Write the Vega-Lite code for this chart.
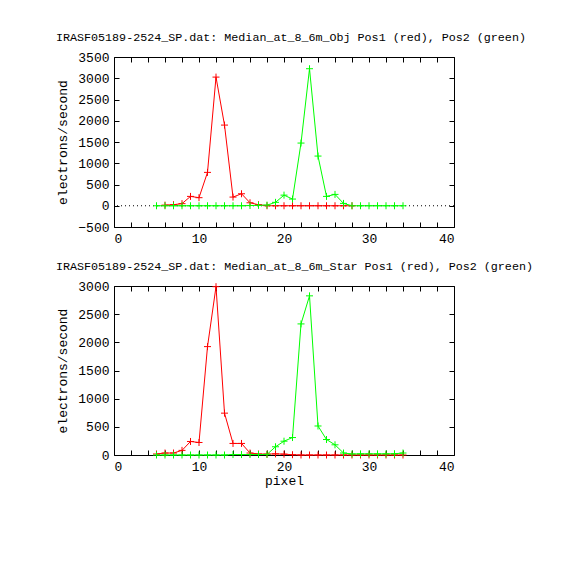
{
  "$schema": "https://vega.github.io/schema/vega-lite/v6.json",
  "background": "white",
  "padding": {"left": 55, "top": 31, "right": 5, "bottom": 5},
  "spacing": 14,
  "datasets": {
    "obj": [
      {"pos": "Pos1", "pixel": 6, "value": 15},
      {"pos": "Pos1", "pixel": 7, "value": 25},
      {"pos": "Pos1", "pixel": 8, "value": 50},
      {"pos": "Pos1", "pixel": 9, "value": 220},
      {"pos": "Pos1", "pixel": 10, "value": 190},
      {"pos": "Pos1", "pixel": 11, "value": 785},
      {"pos": "Pos1", "pixel": 12, "value": 3027},
      {"pos": "Pos1", "pixel": 13, "value": 1898},
      {"pos": "Pos1", "pixel": 14, "value": 204},
      {"pos": "Pos1", "pixel": 15, "value": 282},
      {"pos": "Pos1", "pixel": 16, "value": 70},
      {"pos": "Pos1", "pixel": 17, "value": 24},
      {"pos": "Pos1", "pixel": 18, "value": 0},
      {"pos": "Pos1", "pixel": 19, "value": 0},
      {"pos": "Pos1", "pixel": 20, "value": 0},
      {"pos": "Pos1", "pixel": 21, "value": 0},
      {"pos": "Pos1", "pixel": 22, "value": 0},
      {"pos": "Pos1", "pixel": 23, "value": 0},
      {"pos": "Pos1", "pixel": 24, "value": 0},
      {"pos": "Pos1", "pixel": 25, "value": 0},
      {"pos": "Pos1", "pixel": 26, "value": 0},
      {"pos": "Pos1", "pixel": 27, "value": 0},
      {"pos": "Pos1", "pixel": 28, "value": 0},
      {"pos": "Pos2", "pixel": 5, "value": 0},
      {"pos": "Pos2", "pixel": 6, "value": 0},
      {"pos": "Pos2", "pixel": 7, "value": 0},
      {"pos": "Pos2", "pixel": 8, "value": 0},
      {"pos": "Pos2", "pixel": 9, "value": 0},
      {"pos": "Pos2", "pixel": 10, "value": 0},
      {"pos": "Pos2", "pixel": 11, "value": 0},
      {"pos": "Pos2", "pixel": 12, "value": 0},
      {"pos": "Pos2", "pixel": 13, "value": 0},
      {"pos": "Pos2", "pixel": 14, "value": 0},
      {"pos": "Pos2", "pixel": 15, "value": 0},
      {"pos": "Pos2", "pixel": 16, "value": 5},
      {"pos": "Pos2", "pixel": 17, "value": 10},
      {"pos": "Pos2", "pixel": 18, "value": 15},
      {"pos": "Pos2", "pixel": 19, "value": 80},
      {"pos": "Pos2", "pixel": 20, "value": 250},
      {"pos": "Pos2", "pixel": 21, "value": 157},
      {"pos": "Pos2", "pixel": 22, "value": 1475},
      {"pos": "Pos2", "pixel": 23, "value": 3224},
      {"pos": "Pos2", "pixel": 24, "value": 1169},
      {"pos": "Pos2", "pixel": 25, "value": 220},
      {"pos": "Pos2", "pixel": 26, "value": 267},
      {"pos": "Pos2", "pixel": 27, "value": 55},
      {"pos": "Pos2", "pixel": 28, "value": 0},
      {"pos": "Pos2", "pixel": 29, "value": 0},
      {"pos": "Pos2", "pixel": 30, "value": 0},
      {"pos": "Pos2", "pixel": 31, "value": 0},
      {"pos": "Pos2", "pixel": 32, "value": 0},
      {"pos": "Pos2", "pixel": 33, "value": 0},
      {"pos": "Pos2", "pixel": 34, "value": 0}
    ],
    "star": [
      {"pos": "Pos1", "pixel": 5, "value": 18},
      {"pos": "Pos1", "pixel": 6, "value": 35},
      {"pos": "Pos1", "pixel": 7, "value": 35},
      {"pos": "Pos1", "pixel": 8, "value": 82},
      {"pos": "Pos1", "pixel": 9, "value": 240},
      {"pos": "Pos1", "pixel": 10, "value": 222},
      {"pos": "Pos1", "pixel": 11, "value": 1924},
      {"pos": "Pos1", "pixel": 12, "value": 2988},
      {"pos": "Pos1", "pixel": 13, "value": 743},
      {"pos": "Pos1", "pixel": 14, "value": 205},
      {"pos": "Pos1", "pixel": 15, "value": 205},
      {"pos": "Pos1", "pixel": 16, "value": 35},
      {"pos": "Pos1", "pixel": 17, "value": 18},
      {"pos": "Pos1", "pixel": 18, "value": 15},
      {"pos": "Pos1", "pixel": 19, "value": 20},
      {"pos": "Pos1", "pixel": 20, "value": 15},
      {"pos": "Pos1", "pixel": 21, "value": 5},
      {"pos": "Pos1", "pixel": 22, "value": 0},
      {"pos": "Pos1", "pixel": 23, "value": 0},
      {"pos": "Pos1", "pixel": 24, "value": 0},
      {"pos": "Pos1", "pixel": 25, "value": 0},
      {"pos": "Pos1", "pixel": 26, "value": 0},
      {"pos": "Pos1", "pixel": 27, "value": 0},
      {"pos": "Pos1", "pixel": 28, "value": 0},
      {"pos": "Pos1", "pixel": 29, "value": 0},
      {"pos": "Pos1", "pixel": 30, "value": 0},
      {"pos": "Pos1", "pixel": 31, "value": 0},
      {"pos": "Pos1", "pixel": 32, "value": 0},
      {"pos": "Pos1", "pixel": 33, "value": 0},
      {"pos": "Pos1", "pixel": 34, "value": 0},
      {"pos": "Pos2", "pixel": 5, "value": 0},
      {"pos": "Pos2", "pixel": 6, "value": 0},
      {"pos": "Pos2", "pixel": 7, "value": 0},
      {"pos": "Pos2", "pixel": 8, "value": 0},
      {"pos": "Pos2", "pixel": 9, "value": 0},
      {"pos": "Pos2", "pixel": 10, "value": 0},
      {"pos": "Pos2", "pixel": 11, "value": 0},
      {"pos": "Pos2", "pixel": 12, "value": 0},
      {"pos": "Pos2", "pixel": 13, "value": 0},
      {"pos": "Pos2", "pixel": 14, "value": 8},
      {"pos": "Pos2", "pixel": 15, "value": 8},
      {"pos": "Pos2", "pixel": 16, "value": 8},
      {"pos": "Pos2", "pixel": 17, "value": 8},
      {"pos": "Pos2", "pixel": 18, "value": 10},
      {"pos": "Pos2", "pixel": 19, "value": 146},
      {"pos": "Pos2", "pixel": 20, "value": 245},
      {"pos": "Pos2", "pixel": 21, "value": 310},
      {"pos": "Pos2", "pixel": 22, "value": 2327},
      {"pos": "Pos2", "pixel": 23, "value": 2825},
      {"pos": "Pos2", "pixel": 24, "value": 515},
      {"pos": "Pos2", "pixel": 25, "value": 275},
      {"pos": "Pos2", "pixel": 26, "value": 181},
      {"pos": "Pos2", "pixel": 27, "value": 35},
      {"pos": "Pos2", "pixel": 28, "value": 18},
      {"pos": "Pos2", "pixel": 29, "value": 20},
      {"pos": "Pos2", "pixel": 30, "value": 20},
      {"pos": "Pos2", "pixel": 31, "value": 20},
      {"pos": "Pos2", "pixel": 32, "value": 20},
      {"pos": "Pos2", "pixel": 33, "value": 22},
      {"pos": "Pos2", "pixel": 34, "value": 35}
    ]
  },
  "vconcat": [
    {
      "width": 340,
      "height": 170,
      "title": {"text": "IRASF05189-2524_SP.dat: Median_at_8_6m_Obj Pos1 (red), Pos2 (green)", "anchor": "start", "frame": "group", "dx": -58, "offset": 7},
      "layer": [
        {
          "data": {"values": [{"zero": 0}]},
          "mark": {"type": "rule", "color": "black", "strokeDash": [1, 3], "strokeWidth": 1},
          "encoding": {
            "y": {"field": "zero", "type": "quantitative", "scale": {"domain": [-500, 3500]}, "axis": null}
          }
        },
        {
          "data": {"name": "obj"},
          "mark": {"type": "line", "strokeWidth": 1},
          "encoding": {
            "x": {"field": "pixel", "type": "quantitative", "scale": {"domain": [0, 40]},
                  "axis": {"values": [0, 2, 4, 6, 8, 10, 12, 14, 16, 18, 20, 22, 24, 26, 28, 30, 32, 34, 36, 38, 40], "format": "d", "labelExpr": "datum.value % 10 == 0 ? datum.label : ''", "title": null}},
            "y": {"field": "value", "type": "quantitative", "scale": {"domain": [-500, 3500]},
                  "axis": {"values": [-500, 0, 500, 1000, 1500, 2000, 2500, 3000, 3500], "format": "d", "title": "electrons/second"}},
            "color": {"field": "pos", "type": "nominal", "scale": {"domain": ["Pos1", "Pos2"], "range": ["#ff0000", "#00ff00"]}, "legend": null}
          }
        },
        {
          "data": {"name": "obj"},
          "mark": {"type": "point", "shape": "M-1,0L1,0M0,-1L0,1", "filled": false, "size": 49, "strokeWidth": 1, "opacity": 1},
          "encoding": {
            "x": {"field": "pixel", "type": "quantitative",
                  "axis": {"orient": "top", "values": [0, 2, 4, 6, 8, 10, 12, 14, 16, 18, 20, 22, 24, 26, 28, 30, 32, 34, 36, 38, 40], "labels": false, "title": null}},
            "y": {"field": "value", "type": "quantitative",
                  "axis": {"orient": "right", "values": [-500, 0, 500, 1000, 1500, 2000, 2500, 3000, 3500], "labels": false, "title": null}},
            "color": {"field": "pos", "type": "nominal", "legend": null}
          }
        }
      ],
      "resolve": {"axis": {"x": "independent", "y": "independent"}}
    },
    {
      "width": 340,
      "height": 169,
      "title": {"text": "IRASF05189-2524_SP.dat: Median_at_8_6m_Star Pos1 (red), Pos2 (green)", "anchor": "start", "frame": "group", "dx": -58, "offset": 7},
      "layer": [
        {
          "data": {"name": "star"},
          "mark": {"type": "line", "strokeWidth": 1},
          "encoding": {
            "x": {"field": "pixel", "type": "quantitative", "scale": {"domain": [0, 40]},
                  "axis": {"values": [0, 2, 4, 6, 8, 10, 12, 14, 16, 18, 20, 22, 24, 26, 28, 30, 32, 34, 36, 38, 40], "format": "d", "labelExpr": "datum.value % 10 == 0 ? datum.label : ''", "title": "pixel", "titlePadding": 1}},
            "y": {"field": "value", "type": "quantitative", "scale": {"domain": [0, 3000]},
                  "axis": {"values": [0, 500, 1000, 1500, 2000, 2500, 3000], "format": "d", "title": "electrons/second"}},
            "color": {"field": "pos", "type": "nominal", "scale": {"domain": ["Pos1", "Pos2"], "range": ["#ff0000", "#00ff00"]}, "legend": null}
          }
        },
        {
          "data": {"name": "star"},
          "mark": {"type": "point", "shape": "M-1,0L1,0M0,-1L0,1", "filled": false, "size": 49, "strokeWidth": 1, "opacity": 1},
          "encoding": {
            "x": {"field": "pixel", "type": "quantitative",
                  "axis": {"orient": "top", "values": [0, 2, 4, 6, 8, 10, 12, 14, 16, 18, 20, 22, 24, 26, 28, 30, 32, 34, 36, 38, 40], "labels": false, "title": null}},
            "y": {"field": "value", "type": "quantitative",
                  "axis": {"orient": "right", "values": [0, 500, 1000, 1500, 2000, 2500, 3000], "labels": false, "title": null}},
            "color": {"field": "pos", "type": "nominal", "legend": null}
          }
        }
      ],
      "resolve": {"axis": {"x": "independent", "y": "independent"}}
    }
  ],
  "config": {
    "view": {"stroke": "black", "strokeWidth": 1},
    "font": "Liberation Mono",
    "axis": {
      "domain": false,
      "grid": false,
      "tickColor": "black",
      "tickSize": -5,
      "labelFont": "Liberation Mono",
      "labelFontSize": 13,
      "labelColor": "black",
      "labelPadding": 10,
      "titleFont": "Liberation Mono",
      "titleFontSize": 13,
      "titleFontWeight": "normal",
      "titleColor": "black",
      "titlePadding": 8
    },
    "title": {"font": "Liberation Mono", "fontSize": 11.7, "fontWeight": "normal", "color": "black"}
  }
}
